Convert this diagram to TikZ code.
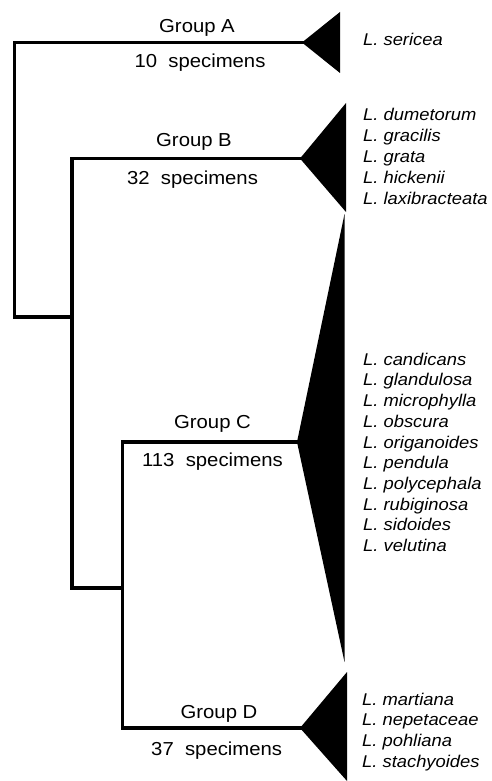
\documentclass[tikz,border=0pt]{standalone}
\usepackage{fontspec}
\setmainfont{Liberation Sans}[FakeStretch=1.08]
\begin{document}
\begin{tikzpicture}[x=1pt,y=-1pt,
  branch/.style={line width=3.8pt, line join=miter, line cap=rect},
  clade/.style={fill=black, draw=none},
  grp/.style={font=\fontsize{18.8}{22}\selectfont, inner sep=0pt, anchor=base},
  sp/.style={font=\fontsize{17}{20}\selectfont\itshape, inner sep=0pt, anchor=base west}]
\useasboundingbox (0,0) rectangle (491,781);
% tree coordinates
\coordinate (tipA) at (302,42.5);
\coordinate (tipB) at (300,158.5);
\coordinate (tipC) at (297,442);
\coordinate (tipD) at (300,728);
\coordinate (cA) at (14.5,42.5);
\coordinate (r1) at (14.5,317);
\coordinate (nBCD) at (72,317);
\coordinate (cB) at (72,158.5);
\coordinate (nCD) at (72,588);
\coordinate (cCD) at (122.5,588);
\coordinate (cC) at (122.5,442);
\coordinate (cD) at (122.5,728);
% triangle corners
\coordinate (aT) at (340,12);   \coordinate (aB) at (340,73);
\coordinate (bT) at (346,103);  \coordinate (bB) at (346,212);
\coordinate (cT) at (344.5,214);\coordinate (cBo) at (344.5,662);
\coordinate (dT) at (347,672);  \coordinate (dB) at (347,781);
% clades
\fill[clade] (tipA) -- (aT) -- (aB) -- cycle;
\fill[clade] (tipB) -- (bT) -- (bB) -- cycle;
\fill[clade] (tipC) -- (cT) -- (cBo) -- cycle;
\fill[clade] (tipD) -- (dT) -- (dB) -- cycle;
% branches
\draw[branch] (tipA) -- (cA) -- (r1) -- (nBCD);
\draw[branch] (tipB) -- (cB) -- (nCD) -- (cCD);
\draw[branch] (tipC) -- (cC) -- (cD) -- (tipD);
% group labels
\node[grp] (gA) at (197,33) {Group A};
\node[grp] (nA) at (200,67.3) {10\ \ specimens};
\node[grp] (gB) at (194,146.6) {Group B};
\node[grp] (nB) at (192.5,184) {32\ \ specimens};
\node[grp] (gC) at (212.5,428.3) {Group C};
\node[grp] (nC) at (212.5,466) {113\ \ specimens};
\node[grp] (gD) at (219,718.3) {Group D};
\node[grp] (nD) at (216.7,755) {37\ \ specimens};
% species
\node[sp] (sA1) at (363,45.5) {L. sericea};
\foreach \t [count=\i from 0] in {dumetorum,gracilis,grata,hickenii,laxibracteata}
  \node[sp] (sB\i) at (363,121+20.8*\i) {L. \t};
\foreach \t [count=\i from 0] in {candicans,glandulosa,microphylla,obscura,origanoides,pendula,polycephala,rubiginosa,sidoides,velutina}
  \node[sp] (sC\i) at (363,365.2+20.7*\i) {L. \t};
\foreach \t [count=\i from 0] in {martiana,nepetaceae,pohliana,stachyoides}
  \node[sp] (sD\i) at (362,705+20.7*\i) {L. \t};
\end{tikzpicture}
\end{document}
